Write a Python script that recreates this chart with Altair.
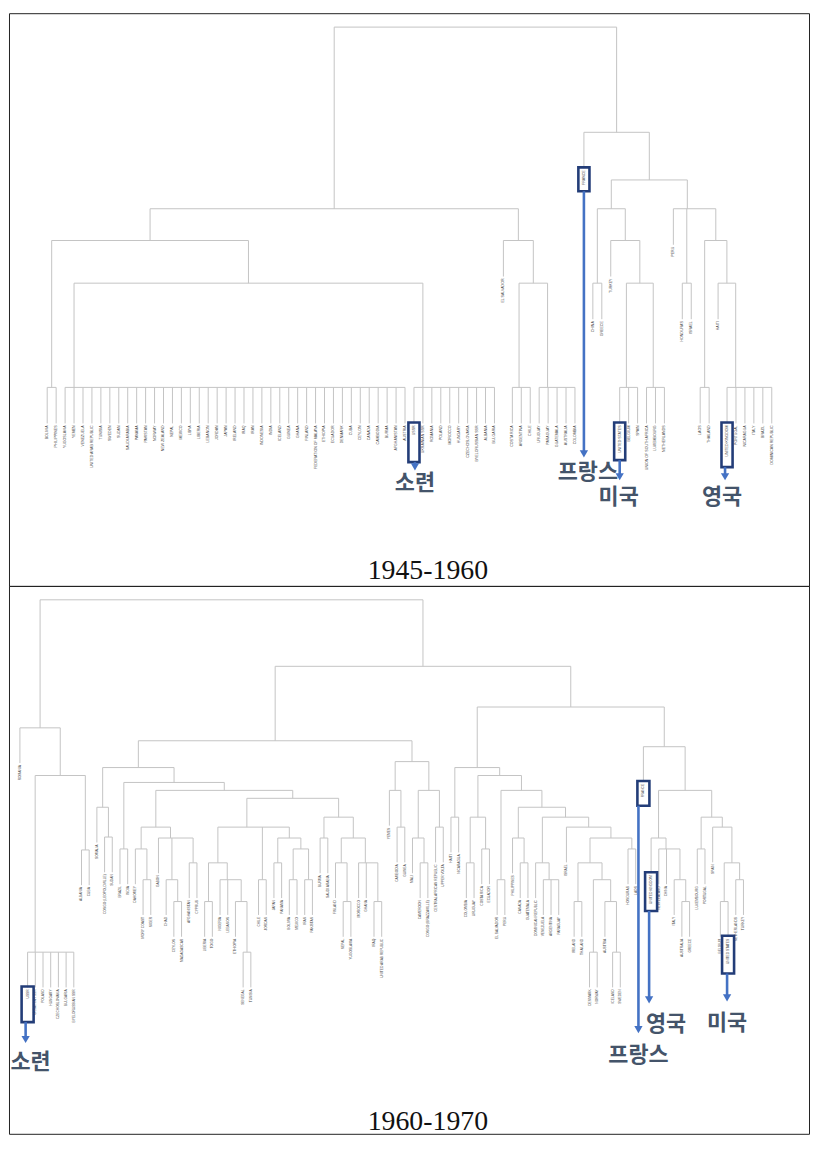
import altair as alt
import pandas as pd

# ---------------- 1945-1960 ----------------
BIG_1 = ["YUGOSLAVIA", "YEMEN", "VENEZUELA", "UNITED ARAB REPUBLIC", "TUNISIA", "SWEDEN",
         "SUDAN", "SAUDI ARABIA", "PANAMA", "PAKISTAN", "NORWAY", "NEW ZEALAND", "NEPAL",
         "MEXICO", "LIBYA", "LIBERIA", "LEBANON", "JORDAN", "JAPAN", "IRELAND", "IRAQ",
         "IRAN", "INDONESIA", "INDIA", "ICELAND", "GUINEA", "GHANA", "FINLAND",
         "FEDERATION OF MALAYA", "ETHIOPIA", "ECUADOR", "DENMARK", "CUBA", "CEYLON",
         "CANADA", "CAMBODIA", "BURMA", "AFGHANISTAN", "AUSTRIA"]
SOVIET_1 = ["USSR", "UKRAINIAN SSR", "ROMANIA", "POLAND", "MOROCCO", "HUNGARY",
            "CZECHOSLOVAKIA", "BYELORUSSIAN SSR", "ALBANIA", "BULGARIA"]
LATAM_1A = ["COSTA RICA", "ARGENTINA", "CHILE"]
LATAM_1B = ["URUGUAY", "PARAGUAY", "GUATEMALA", "AUSTRALIA", "COLOMBIA"]
WEST_1A = ["UNITED STATES", "BELGIUM", "SPAIN"]
WEST_1B = ["UNION OF SOUTH AFRICA", "LUXEMBOURG", "NETHERLANDS"]
UK_1 = ["UNITED KINGDOM", "PORTUGAL", "NICARAGUA", "ITALY", "BRAZIL", "DOMINICAN REPUBLIC"]

# node = [merge height, child, child, ...]; leaf = name
TREE_1 = [363,
          [180,
           [148, [0, "BOLIVIA", "PHILIPPINES"], [105, [0] + BIG_1, [0] + SOVIET_1]],
           [148, "EL SALVADOR", [105, [0] + LATAM_1A, [0] + LATAM_1B]]],
          [257, "FRANCE",
           [209,
            [180, [105, "CHINA", "GREECE"],
             [148, "TURKEY", [105, [0] + WEST_1A, [0] + WEST_1B]]],
            [180, "PERU", [105, "HONDURAS", "ISRAEL"],
             [148, [0, "LAOS", "THAILAND"], [105, "HAITI", [0] + UK_1]]]]]]

# ---------------- 1960-1970 ----------------
SOVIET_2 = ["USSR", "UKRAINIAN SSR", "POLAND", "HUNGARY", "CZECHOSLOVAKIA", "BULGARIA",
            "BYELORUSSIAN SSR"]

AFRO_ASIA_2 = [186,
               [146, "SOMALIA", [116, "CONGO (LEOPOLDVILLE)", "SUDAN"]],
               [171,
                [104, "BRAZIL", "INDIA"],
                [163,
                 [126, [104, "DAHOMEY", [73, "IVORY COAST", "NIGER"]],
                  [115, "GABON", [73, "CHAD", [51, "CEYLON", "MADAGASCAR"]],
                   [90, "AFGHANISTAN", "CYPRUS"]]],
                 [155,
                  [126,
                   [90, [51, "LIBERIA", "TOGO"],
                    [73, "NIGERIA", "LEBANON", [51, "ETHIOPIA", [0, "SENEGAL", "TUNISIA"]]]],
                   [73, "CHILE", "JORDAN"],
                   [115, [90, "JAPAN", "PANAMA"],
                    [104, [73, "BOLIVIA", "MEXICO"], [73, "IRAN", "PAKISTAN"]]]],
                  [136, [115, "BURMA", "SAUDI ARABIA"],
                   [115, [90, "FINLAND", [51, "NEPAL", "YUGOSLAVIA"]],
                    [90, "MOROCCO", "GHANA", [51, "IRAQ", "UNITED ARAB REPUBLIC"]]]]]]]]

AFRICA_2 = [192,
            [163, "YEMEN", [126, "CAMBODIA", "GUINEA"]],
            [163, [115, "MALI", [90, "CAMEROON", "CONGO (BRAZZAVILLE)"]],
             [126, "CENTRAL AFRICAN REPUBLIC", "UPPER VOLTA"]]]

AMERICAS_2 = [186,
              [136, "HAITI", "NICARAGUA"],
              [178,
               [136, [90, "COLOMBIA", "URUGUAY"], [104, "COSTA RICA", "ECUADOR"]],
               [163,
                [73, "EL SALVADOR", "PERU"],
                [146,
                 [115, "PHILIPPINES", [90, "CANADA", "GUATEMALA"]],
                 [136,
                  [90, "DOMINICAN REPUBLIC", [73, "VENEZUELA", "ARGENTINA", "PARAGUAY"]],
                  [126, "ISRAEL",
                   [115,
                    [90, [51, "IRELAND", "THAILAND"],
                     [73, [0, "DENMARK", "NORWAY"],
                      [51, "AUSTRIA", [0, "ICELAND", "SWEDEN"]]]],
                    [104, "HONDURAS", "LAOS"]]]]]]]]

WEST_2 = [207, "FRANCE",
          [163,
           [115, "UNITED KINGDOM",
            [104, "NEW ZEALAND", "CHINA", [73, "ITALY", [51, "AUSTRALIA", "GREECE"]]]],
           [136, [104, "LUXEMBOURG", "PORTUGAL"],
            [126, "SPAIN",
             [90, [51, "BELGIUM", "UNITED STATES"], [73, "NETHERLANDS", "TURKEY"]]]]]]

TREE_2 = [355,
          [226, "ROMANIA", [178, [0] + SOVIET_2, [103, "ALBANIA", "CUBA"]]],
          [288, [213, AFRO_ASIA_2, AFRICA_2], [247, AMERICAS_2, WEST_2]]]

# ---------------- highlighted members ----------------
ANN1_LEAF = ["USSR", "FRANCE", "UNITED STATES", "UNITED KINGDOM"]
ANN1_TEXT = ["소련", "프랑스", "미국", "영국"]
ANN1_BOXLEN = [40, 24, 38, 45]
ANN1_TIP = [-83, -70, -93, -93]
ANN1_TEXT_H = [-96, -85, -110, -110]
ANN1_TEXT_DX = [1, 4, -1, -5]
ANN1_ARROW_DX = [1, 0, 0, -2]

ANN2_LEAF = ["USSR", "FRANCE", "UNITED KINGDOM", "UNITED STATES"]
ANN2_TEXT = ["소련", "프랑스", "영국", "미국"]
ANN2_BOXLEN = [36, 25, 39, 38]
ANN2_TIP = [-91, -81, -51, -49]
ANN2_TEXT_H = [-111, -104, -72, -71]
ANN2_TEXT_DX = [3, -5, 15, -1]
ANN2_ARROW_DX = [-2, -5, -2, -1]

LINE_C = "#c4c4c4"
BOX_C = "#233d78"
ARROW_C = "#4472c4"
KTEXT_C = "#44546a"


def layout(tree):
    hang = 0.1 * tree[0]
    segs, leaves = [], []
    counter = [0]

    def walk(node, parent_h):
        if isinstance(node, str):
            x = counter[0]
            counter[0] += 1
            yend = parent_h - hang
            segs.append(dict(x=x, x2=x, y=parent_h, y2=yend))
            leaves.append(dict(name=node, x=x, yend=yend))
            return x
        h = node[0]
        xs = [walk(k, h) for k in node[1:]]
        pos = xs[-1]
        for xv in reversed(xs[:-1]):
            pos = (xv + pos) / 2
        segs.append(dict(x=xs[0], x2=xs[-1], y=h, y2=h))
        if parent_h is not None:
            segs.append(dict(x=pos, x2=pos, y=parent_h, y2=h))
        return pos

    walk(tree, None)
    return pd.DataFrame(segs), pd.DataFrame(leaves)


def panel(tree, xdom, ydom, W, H, fs, title, title_y, ann, box_half):
    segs, leaves = layout(tree)
    pxu = W / (xdom[1] - xdom[0])  # pixels per index unit
    X = alt.Scale(domain=xdom, nice=False, zero=False)
    Y = alt.Scale(domain=ydom, nice=False, zero=False)
    leaves = leaves.assign(ylab=leaves["yend"] - 2)

    lk = leaves.set_index("name")
    rows = []
    for name, txt, blen, tip, th, tdx, adx in zip(*ann):
        lx = lk.loc[name, "x"]
        ye = lk.loc[name, "yend"]
        top = ye + 1
        bot = ye + 1 - blen
        rows.append(dict(bx=lx - box_half, bx2=lx + box_half, by=top, by2=bot,
                         ax=lx + adx / pxu, ay=bot, ay2=tip + 3, hy=tip + 3,
                         tx=lx + tdx / pxu, ty=th, t=txt))
    a = pd.DataFrame(rows)

    lines = alt.Chart(segs).mark_rule(color=LINE_C, strokeWidth=1).encode(
        x=alt.X("x:Q", scale=X, axis=None), x2="x2:Q",
        y=alt.Y("y:Q", scale=Y, axis=None), y2="y2:Q")
    labels = alt.Chart(leaves).mark_text(
        angle=270, align="right", baseline="middle", fontSize=fs,
        font="Liberation Sans", color="#444444").encode(
        x=alt.X("x:Q", scale=X, axis=None), y=alt.Y("ylab:Q", scale=Y, axis=None),
        text="name:N")
    boxes = alt.Chart(a).mark_rect(fillOpacity=0, stroke=BOX_C, strokeWidth=2.6).encode(
        x=alt.X("bx:Q", scale=X, axis=None), x2="bx2:Q",
        y=alt.Y("by:Q", scale=Y, axis=None), y2="by2:Q")
    arrows = alt.Chart(a).mark_rule(color=ARROW_C, strokeWidth=2.6).encode(
        x=alt.X("ax:Q", scale=X, axis=None),
        y=alt.Y("ay:Q", scale=Y, axis=None), y2="ay2:Q")
    heads = alt.Chart(a).mark_point(shape="triangle-down", filled=True, size=70,
                                    color=ARROW_C, opacity=1).encode(
        x=alt.X("ax:Q", scale=X, axis=None), y=alt.Y("hy:Q", scale=Y, axis=None))
    ktext = alt.Chart(a).mark_text(font="Noto Sans CJK KR", fontWeight="bold",
                                   fontSize=22, color=KTEXT_C, baseline="middle",
                                   align="center").encode(
        x=alt.X("tx:Q", scale=X, axis=None), y=alt.Y("ty:Q", scale=Y, axis=None),
        text="t:N")
    ttl = alt.Chart(pd.DataFrame({"t": [title]})).mark_text(
        font="Liberation Serif", fontSize=28, color="#111111",
        baseline="middle", align="center").encode(
        x=alt.value(422), y=alt.value(title_y), text="t:N")
    return alt.layer(lines, labels, boxes, arrows, heads, ktext, ttl).properties(
        width=W, height=H)


W = 806
top = panel(TREE_1, [(8 - 46.5) / 9.012, (814 - 46.5) / 9.012], [-200, 377], W, 577,
            3.6, "1945-1960", 562,
            (ANN1_LEAF, ANN1_TEXT, ANN1_BOXLEN, ANN1_TIP, ANN1_TEXT_H, ANN1_TEXT_DX,
             ANN1_ARROW_DX), 0.62)
bottom = panel(TREE_2, [(8 - 19) / 7.755, (814 - 19) / 7.755], [-183, 369], W, 552,
               3.3, "1960-1970", 540,
               (ANN2_LEAF, ANN2_TEXT, ANN2_BOXLEN, ANN2_TIP, ANN2_TEXT_H, ANN2_TEXT_DX,
                ANN2_ARROW_DX), 0.78)

chart = alt.vconcat(top, bottom, spacing=0, bounds="flush").properties(
    padding=0).configure_view(stroke="#222222", strokeWidth=1)

chart.save("out.html", embed_options={"renderer": "svg", "actions": False})
